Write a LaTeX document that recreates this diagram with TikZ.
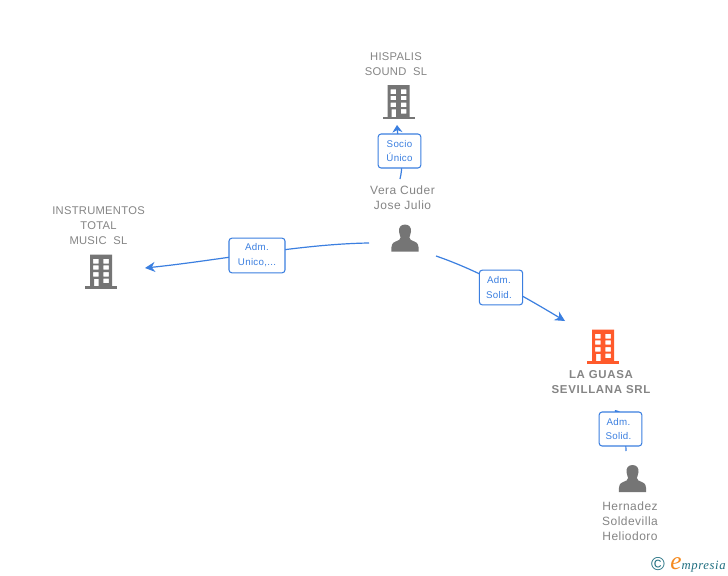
\documentclass[tikz,border=0pt]{standalone}
\usepackage{fontspec}
\setmainfont{Liberation Sans}
\newfontfamily\spacedcaps[LetterSpace=2.5]{Liberation Sans}
\newfontfamily\spacedtext[LetterSpace=4]{Liberation Sans}
\newfontfamily\spacedbold[LetterSpace=6]{Liberation Sans}
\newfontfamily\spacedrole[LetterSpace=3]{Liberation Sans}
\newfontfamily\logofont[LetterSpace=5]{Liberation Serif}
\usetikzlibrary{arrows.meta}
\definecolor{icongray}{HTML}{757575}
\definecolor{textgray}{HTML}{858585}
\definecolor{linkblue}{HTML}{3B7FE0}
\definecolor{hotorange}{HTML}{FF5A2B}
\definecolor{logoteal}{HTML}{1F6E80}
\definecolor{logoorange}{HTML}{F58A1F}
\tikzset{
  x=0.75pt,y=-0.75pt,
  nametext/.style={font=\spacedcaps\fontsize{8.4}{11.2}\selectfont,text=textgray,align=center,inner sep=0pt},
  boldtext/.style={nametext,font=\spacedbold\fontsize{8.6}{11.2}\selectfont\bfseries},
  persontext/.style={nametext,font=\spacedtext\fontsize{9}{11.2}\selectfont},
  rolebox/.style={draw=linkblue,line width=0.8pt,fill=white,rounded corners=2.2pt,text=linkblue,
    font=\spacedrole\fontsize{7.3}{11.2}\selectfont,align=center,inner sep=0pt},
  link/.style={draw=linkblue,line width=0.9pt,-{Stealth[length=7.5pt,width=7.5pt]}},
  iconslot/.style={inner sep=0pt,minimum width=24pt,minimum height=27pt},
}
\newcommand{\buildingicon}[2]{%
  \begin{scope}[shift={(#1)}]
    \fill[#2,even odd rule] (-11,-16) rectangle (11,16)
      (-7.8,-11.7) rectangle (-2.3,-7) (2.3,-11.7) rectangle (7.8,-7)
      (-7.8,-5.2) rectangle (-2.3,-0.8) (2.3,-5.2) rectangle (7.8,-0.8)
      (-7.8,1.6) rectangle (-2.3,6) (2.3,1.6) rectangle (7.8,6)
      (-6.8,8.4) rectangle (-2.3,16) (2.3,8) rectangle (7.8,12.5);
    \fill[#2] (-16,15.6) rectangle (16,18);
  \end{scope}}
\newcommand{\personicon}[1]{%
  \begin{scope}[shift={(#1)}]
    \fill[icongray] (0,-13.5) .. controls (4.6,-13.5) and (6.4,-10) .. (6,-6.5)
      .. controls (5.7,-3.5) and (4.6,-2) .. (4.4,-0.5) .. controls (4.4,1.5) and (6.5,2.6) .. (9.5,3.6)
      .. controls (13,4.8) and (13.7,7) .. (13.7,13.5) -- (-13.7,13.5)
      .. controls (-13.7,7) and (-13,4.8) .. (-9.5,3.6) .. controls (-6.5,2.6) and (-4.4,1.5) .. (-4.4,-0.5)
      .. controls (-4.6,-2) and (-5.7,-3.5) .. (-6,-6.5) .. controls (-6.4,-10) and (-4.6,-13.5) .. (0,-13.5) -- cycle;
  \end{scope}}
\begin{document}
\begin{tikzpicture}
\useasboundingbox[fill=white] (0,0) rectangle (728,575);

% icons
\buildingicon{398.5,101}{icongray}
\buildingicon{101,270.5}{icongray}
\buildingicon{603,345.5}{hotorange}
\personicon{405,238}
\personicon{632.5,478.5}

% slots the connectors attach to
\node[iconslot] (hispalisIcon) at (398.5,101) {};
\node[iconslot] (instrIcon) at (101,270.5) {};
\node[iconslot] (guasaIcon) at (603,345.5) {};
\node[iconslot] (veraIcon) at (405,238) {};
\node[iconslot] (hernIcon) at (632.5,478.5) {};

% names
\node[nametext] (hispalisName) at (396,64) {HISPALIS\\SOUND\ \ SL};
\node[nametext] (instrName) at (98.5,225.5) {INSTRUMENTOS\\TOTAL\\MUSIC\ \ SL};
\node[boldtext] (guasaName) at (601,382.5) {LA GUASA\\SEVILLANA SRL};
\node[persontext] (veraName) at (402.5,197.5) {Vera Cuder\\Jose Julio};
\node[persontext] (hernName) at (630,521) {Hernadez\\Soldevilla\\Heliodoro};

% connectors
\coordinate (hispalisIn) at (397,125);
\coordinate (veraUp) at (400,179);
\coordinate (veraLeft) at (369,243);
\coordinate (instrIn) at (145,268);
\coordinate (veraRight) at (436,256);
\coordinate (guasaIn) at (565,321);
\coordinate (hernUp) at (626,451);
\coordinate (guasaDown) at (615,410);

\path[link,-{Stealth[length=5.5pt,width=7.5pt]}] (veraUp) .. controls (405,158) and (398,142) .. (hispalisIn);
\path[link] (veraLeft) .. controls (300,244) and (222,260) .. (instrIn);
\path[link] (veraRight) .. controls (480,271) and (525,297) .. (guasaIn);
\path[link,-{Stealth[length=3pt,width=5pt]}] (hernUp) .. controls (626,438) and (622,420) .. (guasaDown);

% role labels
\node[rolebox,minimum width=32pt,minimum height=25.5pt] (roleSocio) at (399.5,151) {\raisebox{-1pt}{Socio}\\\raisebox{-1pt}{Único}};
\node[rolebox,minimum width=42pt,minimum height=26pt] (roleUnico) at (257,255.5) {\raisebox{-1pt}{Adm.}\\\raisebox{-1pt}{Unico,...}};
\node[rolebox,minimum width=32.5pt,minimum height=26pt] (roleSolidA) at (501,287.5) {\hspace*{-3pt}Adm.\\\hspace*{-3pt}Solid.};
\node[rolebox,minimum width=32pt,minimum height=25.5pt] (roleSolidB) at (620.5,429) {\hspace*{-3pt}Adm.\\\hspace*{-3pt}Solid.};

% logo
\node[inner sep=0pt,text=logoteal,font=\fontsize{14}{14}\selectfont] (logoC) at (658,564) {©};
\node[inner sep=0pt,anchor=base west] (logoWord) at (670,569)
  {\logofont\itshape\textcolor{logoorange}{\fontsize{19}{19}\selectfont e}\textcolor{logoteal}{\fontsize{9.5}{10}\selectfont mpresia}};
\end{tikzpicture}
\end{document}
